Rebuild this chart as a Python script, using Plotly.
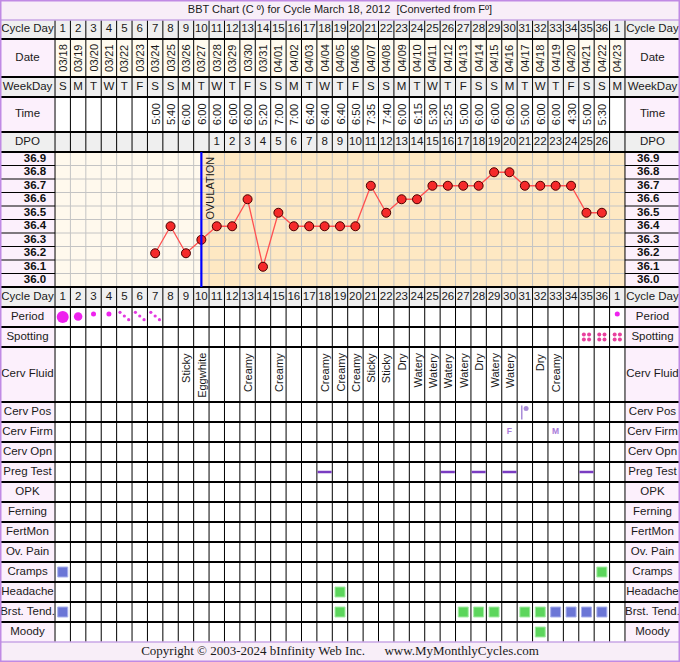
import plotly.graph_objects as go

# ---------------- data ----------------
cycle_days = [str(d) for d in range(1, 37)] + ["1"]
dates = ["03/18", "03/19", "03/20", "03/21", "03/22", "03/23", "03/24", "03/25", "03/26", "03/27",
         "03/28", "03/29", "03/30", "03/31", "04/01", "04/02", "04/03", "04/04", "04/05", "04/06",
         "04/07", "04/08", "04/09", "04/10", "04/11", "04/12", "04/13", "04/14", "04/15", "04/16",
         "04/17", "04/18", "04/19", "04/20", "04/21", "04/22", "04/23"]
weekdays = ["S", "M", "T", "W", "T", "F", "S"] * 5 + ["S", "M"]
times = ["", "", "", "", "", "", "5:00", "5:40", "6:00", "6:00", "6:00", "6:00", "6:00", "5:20",
         "7:00", "7:00", "6:40", "6:40", "6:40", "6:50", "7:35", "7:40", "6:00", "6:15", "5:30",
         "5:25", "5:00", "6:00", "6:00", "6:00", "5:00", "6:00", "6:00", "4:30", "5:00", "5:30", ""]
dpo = [""] * 10 + [str(i) for i in range(1, 27)] + [""]
temps = [None] * 6 + [36.2, 36.4, 36.2, 36.3, 36.4, 36.4, 36.6, 36.1, 36.5, 36.4, 36.4, 36.4,
                      36.4, 36.4, 36.7, 36.5, 36.6, 36.6, 36.7, 36.7, 36.7, 36.7, 36.8, 36.8,
                      36.7, 36.7, 36.7, 36.7, 36.5, 36.5] + [None]
temp_ticks = [36.9, 36.8, 36.7, 36.6, 36.5, 36.4, 36.3, 36.2, 36.1, 36.0]
ovulation_day = 10

cf_days = [9, 10, 13, 15, 18, 19, 20, 21, 22, 23, 24, 25, 26, 27, 28, 29, 30, 32, 33]
cf_vals = ["Sticky", "Eggwhite", "Creamy", "Creamy", "Creamy", "Creamy", "Creamy", "Sticky", "Sticky",
           "Dry", "Watery", "Watery", "Watery", "Watery", "Dry", "Watery", "Watery", "Dry", "Creamy"]

period_heavy = [1]
period_medium = [2]
period_light = [3, 4, 37]
period_spot = [5, 6, 7]
spotting_days = [35, 36, 37]
cerv_pos_days = [31]
cerv_firm_days = [30, 33]
cerv_firm_vals = ["F", "M"]
preg_test_days = [18, 26, 28, 30, 35]
cramps_blue, cramps_green = [1], [36]
headache_green = [19]
brst_blue, brst_green = [1, 33, 34, 35, 36], [19, 27, 28, 29, 31, 32]
moody_green = [32]

# ---------------- layout geometry ----------------
W, H = 680, 662
COLW = 15.4
LABW = 55
NCOL = 37
XMIN = 0.5 - LABW / COLW
XMAX = NCOL + 0.5 + LABW / COLW
XL = 0.5 - LABW / 2 / COLW
XR = NCOL + 0.5 + LABW / 2 / COLW
XC = (XMIN + XMAX) / 2

def px2x(px):
    return 0.5 + (px - LABW) / COLW

rows = [
    ("title", "", 0, 20, "title"),
    ("cd1", "Cycle Day", 20, 39, "gray"),
    ("date", "Date", 39, 77, "date"),
    ("wd", "WeekDay", 77, 97, "gray"),
    ("time", "Time", 97, 132, "white"),
    ("dpo", "DPO", 132, 152, "gray"),
    ("chart", "", 152, 287, "chart"),
    ("cd2", "Cycle Day", 287, 307, "gray"),
    ("period", "Period", 307, 327, "white"),
    ("spot", "Spotting", 327, 347, "white"),
    ("cf", "Cerv Fluid", 347, 402, "white"),
    ("cpos", "Cerv Pos", 402, 422, "white"),
    ("cfirm", "Cerv Firm", 422, 442, "white"),
    ("copn", "Cerv Opn", 442, 462, "white"),
    ("preg", "Preg Test", 462, 482, "white"),
    ("opk", "OPK", 482, 502, "white"),
    ("fern", "Ferning", 502, 522, "white"),
    ("fert", "FertMon", 522, 542, "white"),
    ("ovp", "Ov. Pain", 542, 562, "white"),
    ("cramps", "Cramps", 562, 582, "white"),
    ("head", "Headache", 582, 602, "white"),
    ("brst", "Brst. Tend.", 602, 622, "white"),
    ("moody", "Moody", 622, 642, "white"),
    ("copy", "", 642, 662, "title"),
]
R = {k: (t, b) for k, _, t, b, _ in rows}
def mid(k):
    t, b = R[k]
    return (t + b) / 2

FONT = "Liberation Sans, Arial, sans-serif"
PINK = "#fcf0fc"
GRAY = "#efefef"
TXT = "#1a1a1a"

fig = go.Figure()
shapes = []

def rect(x0, x1, y0, y1, color):
    shapes.append(dict(type="rect", xref="x", yref="y", x0=x0, x1=x1, y0=y0, y1=y1,
                       fillcolor=color, line=dict(width=0), layer="below"))

# backgrounds
for k, lab, t, b, style in rows:
    if style == "title":
        rect(XMIN, XMAX, t, b, "#f8eef8")
    elif style == "gray":
        rect(XMIN, XMAX, t, b, GRAY)
    elif style == "date":
        rect(XMIN, XMAX, t, b, "#fffbef")
        rect(XMIN, 0.5, t, b, PINK)
        rect(NCOL + 0.5, XMAX, t, b, PINK)
    elif style == "white":
        rect(XMIN, XMAX, t, b, "#ffffff")
        rect(XMIN, 0.5, t, b, PINK)
        rect(NCOL + 0.5, XMAX, t, b, PINK)
    elif style == "chart":
        rect(XMIN, 0.5, t, b, PINK)
        rect(NCOL + 0.5, XMAX, t, b, PINK)
        rect(0.5, ovulation_day, t, b, "#fff9ed")
        rect(ovulation_day, NCOL + 0.5, t, b, "#fee8c3")

# ---------------- grid lines (scatter traces) ----------------
def seg_trace(xs_list, ys_list, color, width, yaxis="y"):
    xs, ys = [], []
    for (x0, x1), (y0, y1) in zip(xs_list, ys_list):
        xs += [x0, x1, None]
        ys += [y0, y1, None]
    fig.add_trace(go.Scatter(x=xs, y=ys, mode="lines", yaxis=yaxis,
                             line=dict(color=color, width=width),
                             hoverinfo="skip", showlegend=False))

ct, cb = R["chart"]
rowh = (cb - ct) / len(temp_ticks)
# gray chart grid
gx, gy = [], []
for b in range(1, NCOL):
    gx.append((b + 0.5, b + 0.5)); gy.append((ct, cb))
for i in range(1, len(temp_ticks)):
    yy = ct + i * rowh
    gx.append((0.5, NCOL + 0.5)); gy.append((yy, yy))
seg_trace(gx, gy, "#c4c4c4", 1)

# thin black lines: column separators in table rows, label-column temp separators
bx, by = [], []
for b in range(0, NCOL + 1):
    bx.append((b + 0.5, b + 0.5)); by.append((R["cd1"][0], ct))
    bx.append((b + 0.5, b + 0.5)); by.append((cb, R["moody"][1]))
for x in (0.5, NCOL + 0.5):
    bx.append((x, x)); by.append((ct, cb))
for i in range(1, len(temp_ticks)):
    yy = ct + i * rowh
    bx.append((XMIN, 0.5)); by.append((yy, yy))
    bx.append((NCOL + 0.5, XMAX)); by.append((yy, yy))
seg_trace(bx, by, "#000000", 1)

# thick black row separators
hx, hy = [], []
for k, lab, t, b, style in rows[1:-2]:
    hx.append((XMIN, XMAX)); hy.append((b, b))
seg_trace(hx, hy, "#000000", 2)
# purple separators for title / copyright rows
seg_trace([(XMIN, XMAX), (XMIN, XMAX)], [(R["title"][1], R["title"][1]), (R["copy"][0], R["copy"][0])],
          "#c9a6e6", 1.5)

# ---------------- text ----------------
def text_trace(xs, ys, texts, size, color=TXT, family=FONT, yaxis="y"):
    fig.add_trace(go.Scatter(x=xs, y=ys, text=texts, mode="text", textposition="middle center",
                             yaxis=yaxis, textfont=dict(size=size, color=color, family=family),
                             hoverinfo="skip", showlegend=False))

days = list(range(1, NCOL + 1))
# row labels
lx, ly, lt = [], [], []
for k, lab, t, b, style in rows:
    if lab:
        lx += [XL, XR]; ly += [mid(k), mid(k)]; lt += [lab, lab]
text_trace(lx, ly, lt, 11.5)

# numbers
text_trace(days, [mid("cd1")] * NCOL, cycle_days, 11.5)
text_trace(days, [mid("cd2")] * NCOL, cycle_days, 11.5)
text_trace(days, [mid("wd")] * NCOL, weekdays, 11.5)
text_trace(days, [mid("dpo")] * NCOL, dpo, 11.5)

# title & copyright
text_trace([XC], [mid("title")], ["BBT Chart (C \u00ba) for Cycle March 18, 2012 \u00a0[Converted from F\u00ba]"], 11)
text_trace([XC], [mid("copy")],
           ["Copyright \u00a9 2003-2024 bInfinity Web Inc.\u00a0\u00a0\u00a0\u00a0\u00a0 www.MyMonthlyCycles.com"],
           13, family="Liberation Serif, Times New Roman, serif")

annotations = []
for d, s in zip(days, dates):
    annotations.append(dict(x=d, y=mid("date"), xref="x", yref="y", text=s, textangle=-90,
                            showarrow=False, font=dict(size=11, color=TXT, family=FONT)))
for d, s in zip(days, times):
    if s:
        annotations.append(dict(x=d, y=mid("time"), xref="x", yref="y", text=s, textangle=-90,
                                showarrow=False, font=dict(size=11, color=TXT, family=FONT)))
for d, s in zip(cf_days, cf_vals):
    annotations.append(dict(x=d, y=R["cf"][0] + 4, xref="x", yref="y", text=s, textangle=-90,
                            yanchor="top", showarrow=False, font=dict(size=11, color=TXT, family=FONT)))
annotations.append(dict(x=ovulation_day, y=temp_ticks[0] + 0.03, xref="x", yref="y2", text="OVULATION",
                        textangle=-90, xanchor="left", yanchor="top", xshift=1, showarrow=False,
                        font=dict(size=11, color=TXT, family=FONT)))

# ---------------- marks in lower rows ----------------
def marks(xs, ys, symbol, size, color, lw=0, lc=None):
    fig.add_trace(go.Scatter(x=xs, y=ys, mode="markers", hoverinfo="skip", showlegend=False,
                             marker=dict(symbol=symbol, size=size, color=color,
                                         line=dict(width=lw, color=lc or color))))

PC = "#ee22ee"
marks(period_heavy, [mid("period")] * len(period_heavy), "circle", 12, PC)
marks(period_medium, [mid("period") - 0.5] * len(period_medium), "circle", 8.5, PC)
marks(period_light, [mid("period") - 3] * len(period_light), "circle", 5, PC)
sx, sy = [], []
for d in period_spot:
    for k in (-1, 0, 1):
        sx.append(d + k * 0.28); sy.append(mid("period") - 1 + k * 3.7)
marks(sx, sy, "circle", 3.2, "#e23ae0")
spx, spy = [], []
for d in spotting_days:
    for i in (-1, 1):
        for j in (-1, 1):
            spx.append(d + i * 0.17); spy.append(mid("spot") + j * 2.6)
marks(spx, spy, "circle", 4, "#e8409e")

CP = "#a88bd8"
marks([d - 0.2 for d in cerv_pos_days], [mid("cpos") + 0.5] * len(cerv_pos_days), "line-ns", 10, CP, 1.5, CP)
marks([d + 0.08 for d in cerv_pos_days], [mid("cpos") - 3.5] * len(cerv_pos_days), "circle", 5, CP)
text_trace(cerv_firm_days, [mid("cfirm")] * len(cerv_firm_days), ["<b>%s</b>" % v for v in cerv_firm_vals],
           8.5, color="#a97ad9")
marks(preg_test_days, [mid("preg")] * len(preg_test_days), "line-ew", 10, "#7a3cc2", 2.5, "#7a3cc2")

BLUE, BLUE_L = "#6b76d6", "#a9b0ec"
GREEN, GREEN_L = "#5cd65c", "#a6eca6"
for dl, key, col, lcol in [(cramps_blue, "cramps", BLUE, BLUE_L), (cramps_green, "cramps", GREEN, GREEN_L),
                           (headache_green, "head", GREEN, GREEN_L), (brst_blue, "brst", BLUE, BLUE_L),
                           (brst_green, "brst", GREEN, GREEN_L), (moody_green, "moody", GREEN, GREEN_L)]:
    marks(dl, [mid(key)] * len(dl), "square", 10, col, 1, lcol)

# ---------------- temperature chart (own y axis) ----------------
fig.add_trace(go.Scatter(x=days, y=temps, yaxis="y2", mode="lines+markers",
                         connectgaps=False, hoverinfo="skip", showlegend=False,
                         line=dict(color="#ff5050", width=1.3),
                         marker=dict(size=9, color="#f52a2a", line=dict(width=1, color="#4a0000"))))
text_trace([px2x(35)] * len(temp_ticks) + [px2x(648)] * len(temp_ticks), temp_ticks + temp_ticks,
           ["<b>%.1f</b>" % t for t in temp_ticks] * 2, 11.5, color="#111111", yaxis="y2")
# ovulation line
fig.add_trace(go.Scatter(x=[ovulation_day, ovulation_day], y=[temp_ticks[0] + 0.05, temp_ticks[-1] - 0.05],
                         yaxis="y2", mode="lines", line=dict(color="#0000ff", width=2.2),
                         hoverinfo="skip", showlegend=False))

# outer frame
shapes.append(dict(type="rect", xref="x", yref="y", x0=XMIN, x1=XMAX, y0=0, y1=H,
                   line=dict(color="#c08ae4", width=3), fillcolor="rgba(0,0,0,0)", layer="above"))

fig.update_layout(
    width=W, height=H, autosize=False,
    margin=dict(l=0, r=0, t=0, b=0, pad=0),
    paper_bgcolor="#ffffff", plot_bgcolor="rgba(0,0,0,0)",
    shapes=shapes, annotations=annotations, showlegend=False,
    xaxis=dict(range=[XMIN, XMAX], visible=False, fixedrange=True),
    yaxis=dict(range=[H, 0], visible=False, fixedrange=True),
    yaxis2=dict(range=[temp_ticks[-1] - 0.05, temp_ticks[0] + 0.05], visible=False, fixedrange=True,
                anchor="x", domain=[(H - cb) / H, (H - ct) / H]),
)

fig.write_html("out.html", config={"displayModeBar": False, "staticPlot": True},
               post_script="document.body.style.margin='0';")
